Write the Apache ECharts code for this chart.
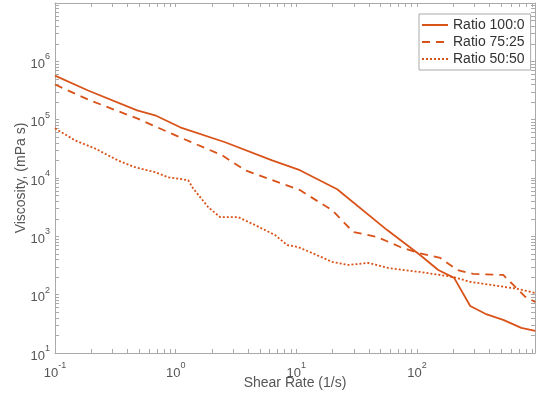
<!DOCTYPE html>
<html>
<head>
<meta charset="utf-8">
<script src="https://cdn.jsdelivr.net/npm/echarts@6/dist/echarts.min.js"></script>
<style>
  html, body { margin: 0; padding: 0; background: #fff; }
  #chart { width: 544px; height: 393px; }
</style>
</head>
<body>
<div id="chart"></div>
<script>
// shear rate (1/s) / viscosity (mPa s) pairs
const shear100 = [0.1, 0.188, 0.479, 0.675, 1.09, 2.57, 6.3, 10.7, 21.8, 56.6, 106, 150, 203, 276, 368, 518, 731, 955];
const visc100 = [5.7e5, 3.16e5, 1.44e5, 1.19e5, 7.4e4, 4.1e4, 2.0e4, 1.36e4, 6.4e3, 1.28e3, 479, 265, 194, 64, 47, 37, 27, 24];

const shear75 = [0.1, 0.195, 0.479, 1.09, 2.43, 3.76, 6.3, 10.7, 19.8, 29.6, 46.8, 72.6, 102, 156, 215, 292, 518, 652, 789, 955];
const visc75 = [4.0e5, 2.14e5, 1.05e5, 4.97e4, 2.45e4, 1.36e4, 9.2e3, 6.2e3, 2.8e3, 1.19e3, 973, 656, 519, 426, 265, 227, 218, 136, 92, 75];

const shear50 = [0.1, 0.147, 0.215, 0.333, 0.46, 0.675, 0.865, 1.27, 1.39, 1.86, 2.33, 3.29, 4.55, 6.67, 8.39, 10.3, 13.5, 19.8, 26.9, 39.4, 57.7, 106, 200, 276, 678, 955];
const visc50 = [7.1e4, 4.4e4, 3.2e4, 2.0e4, 1.53e4, 1.26e4, 1.03e4, 9.2e3, 6.7e3, 3.17e3, 2.14e3, 2.14e3, 1.56e3, 1.05e3, 710, 656, 519, 364, 323, 350, 287, 245, 201, 166, 126, 107];

const seriesNames = ["Ratio 100:0", "Ratio 75:25", "Ratio 50:50"];
const xMajor = [0.1, 1, 10, 100];
const yMajor = [10, 100, 1000, 1e4, 1e5, 1e6];

const lineColor = "#d95319";
const axisColor = "#aaaaaa";
const textColor = "#555555";

// minor ticks 2..9 in every decade
function decadeTicks(lo, hi, max) {
    const out = [];
    for (let e = lo; e <= hi; e++) {
        for (let m = 1; m <= 9; m++) {
            const v = m * Math.pow(10, e);
            if (v <= max * 1.0001) out.push(+v.toPrecision(3));
        }
    }
    return out;
}
const xTicks = decadeTicks(-1, 2, 950);
const yTicks = decadeTicks(1, 6, 1e7).concat([1e7]);

function pow10Label(v) {
    const e = Math.round(Math.log10(v));
    return "{b|10}{s|" + e + "}";
}
const labelRich = {
    b: { fontSize: 13, color: textColor, fontFamily: "Liberation Sans", padding: [6, 0, 0, 0] },
    s: { fontSize: 9, color: textColor, fontFamily: "Liberation Sans", padding: [0, 0, 9, 0] }
};

function pairs(xs, ys) {
    return xs.map((x, i) => [x, ys[i]]);
}

const chart = echarts.init(document.getElementById("chart"));

const baseX = {
    type: "log",
    logBase: 10,
    min: 0.1,
    max: 950,
    axisLine: { show: true, onZero: false, lineStyle: { color: axisColor, width: 1 } },
    axisTick: { show: true, inside: true, length: 4, customValues: xTicks, lineStyle: { color: axisColor } },
    splitLine: { show: false },
    minorTick: { show: false }
};
const baseY = {
    type: "log",
    logBase: 10,
    min: 10,
    max: 1e7,
    axisLine: { show: true, onZero: false, lineStyle: { color: axisColor, width: 1 } },
    axisTick: { show: true, inside: true, length: 4, customValues: yTicks, lineStyle: { color: axisColor } },
    splitLine: { show: false },
    minorTick: { show: false }
};

chart.setOption({
    animation: false,
    backgroundColor: "#ffffff",
    grid: { left: 55, right: 9, top: 3, bottom: 40, containLabel: false, outerBoundsMode: "none" },
    legend: {
        orient: "vertical",
        left: 419,
        top: 14,
        padding: [4, 6, 4, 2],
        itemGap: 3,
        itemWidth: 26,
        itemHeight: 14,
        borderColor: axisColor,
        borderWidth: 1,
        backgroundColor: "#ffffff",
        itemStyle: { opacity: 0 },
        textStyle: { fontSize: 14, color: "#333333", fontFamily: "Liberation Sans" },
        data: seriesNames
    },
    xAxis: [
        Object.assign({}, baseX, {
            position: "bottom",
            name: "Shear Rate (1/s)",
            nameLocation: "middle",
            nameGap: 23,
            nameMoveOverlap: false,
            nameTextStyle: { fontSize: 14, color: textColor, fontFamily: "Liberation Sans" },
            axisLabel: {
                show: true,
                customValues: xMajor,
                formatter: pow10Label,
                rich: labelRich,
                margin: 8
            }
        }),
        Object.assign({}, baseX, {
            position: "top",
            axisLabel: { show: false }
        })
    ],
    yAxis: [
        Object.assign({}, baseY, {
            position: "left",
            name: "Viscosity, (mPa s)",
            nameLocation: "middle",
            nameGap: 27,
            nameMoveOverlap: false,
            nameTextStyle: { fontSize: 14, color: textColor, fontFamily: "Liberation Sans" },
            axisLabel: {
                show: true,
                customValues: yMajor,
                formatter: pow10Label,
                rich: labelRich,
                margin: 5
            }
        }),
        Object.assign({}, baseY, {
            position: "right",
            axisLabel: { show: false }
        })
    ],
    series: [
        {
            name: seriesNames[0],
            type: "line",
            symbol: "none",
            color: lineColor,
            lineStyle: { color: lineColor, width: 1.8, type: "solid" },
            data: pairs(shear100, visc100)
        },
        {
            name: seriesNames[1],
            type: "line",
            symbol: "none",
            color: lineColor,
            lineStyle: { color: lineColor, width: 1.8, type: [8, 6] },
            data: pairs(shear75, visc75)
        },
        {
            name: seriesNames[2],
            type: "line",
            symbol: "none",
            color: lineColor,
            lineStyle: { color: lineColor, width: 1.8, type: [2, 2] },
            data: pairs(shear50, visc50)
        }
    ]
});
</script>
</body>
</html>
